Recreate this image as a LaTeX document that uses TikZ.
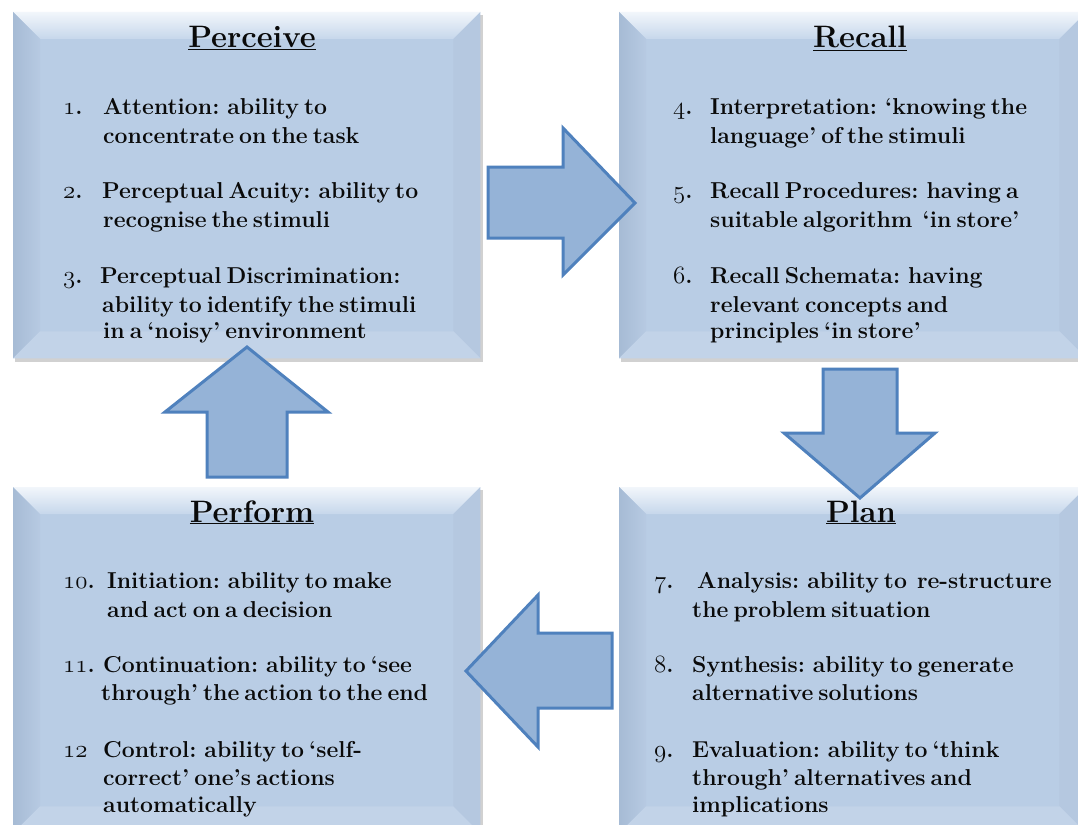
\documentclass[tikz,border=0pt]{standalone}
\usetikzlibrary{calc}
\definecolor{boxfill}{HTML}{B9CDE5}
\definecolor{bevtopA}{HTML}{F2F6FB}
\definecolor{bevtopB}{HTML}{C6D7EB}
\definecolor{bevleftA}{HTML}{A6BBD5}
\definecolor{bevleftB}{HTML}{B7CAE2}
\definecolor{bevright}{HTML}{B5C8E0}
\definecolor{bevbot}{HTML}{C2D3E8}
\definecolor{arrfill}{HTML}{95B3D7}
\definecolor{arrline}{HTML}{4F81BD}
\definecolor{txtc}{HTML}{0A0A0A}
\newcommand\osn[1]{{\fontencoding{OML}\fontfamily{lmm}\fontseries{b}\fontshape{it}\selectfont #1}}
\newcommand\bodyfnt{\fontsize{23}{26}\selectfont\bfseries\spaceskip=0.22em plus 0.05em minus 0.02em\relax}
\tikzset{
  boxbody/.style={rectangle, fill=boxfill, draw=none, inner sep=0pt, anchor=north west},
  blockarrow/.style={fill=arrfill, draw=arrline, line width=3pt, line join=miter},
  ttl/.style={anchor=base, inner sep=0pt, text=txtc, font=\fontsize{31}{34}\selectfont\bfseries},
  txt/.style={anchor=base west, inner sep=0pt, text=txtc, font=\bodyfnt},
}
\newcommand\bevbox[5]{%
  \fill[black, opacity=0.18] (#2+2,#3+3) rectangle (#4+3,#5+4);
  \node[boxbody, minimum width=#4-#2, minimum height=#5-#3] (#1) at (#2,#3) {};
  \shade[top color=bevtopA, bottom color=bevtopB] (#1.north west) -- (#1.north east) -- ([xshift=-27pt,yshift=-27pt]#1.north east) -- ([xshift=27pt,yshift=-27pt]#1.north west) -- cycle;
  \shade[left color=bevleftA, right color=bevleftB] (#1.north west) -- ([xshift=27pt,yshift=-27pt]#1.north west) -- ([xshift=27pt,yshift=27pt]#1.south west) -- (#1.south west) -- cycle;
  \fill[bevright] (#1.north east) -- ([xshift=-27pt,yshift=-27pt]#1.north east) -- ([xshift=-27pt,yshift=27pt]#1.south east) -- (#1.south east) -- cycle;
  \fill[bevbot] (#1.south west) -- ([xshift=27pt,yshift=27pt]#1.south west) -- ([xshift=-27pt,yshift=27pt]#1.south east) -- (#1.south east) -- cycle;
}
\begin{document}
\begin{tikzpicture}[x=1pt,y=-1pt]
\useasboundingbox (0,0) rectangle (1078,824);
\fill[white] (0,0) rectangle (1078,824);

% boxes
\bevbox{perceive}{13}{12}{480}{358}
\bevbox{recall}{619}{12}{1086}{358}
\bevbox{perform}{13}{487}{480}{833}
\bevbox{plan}{619}{487}{1086}{833}

% titles
\node[ttl] (tperceive) at (252,48) {\underline{Perceive}};
\node[ttl] (trecall) at (860,48) {\underline{Recall}};
\node[ttl] (tperform) at (252,522) {\underline{Perform}};
\node[ttl] (tplan) at (861,522) {\underline{Plan}};

% Perceive items
\node[txt] (n1) at (63,115) {\osn{1}.};
\node[txt] (a1) at (103,115) {Attention: ability to};
\node[txt] (b1) at (103,143) {concentrate on the task};
\node[txt] (n2) at (63,198) {\osn{2}.};
\node[txt] (a2) at (102,198) {Perceptual Acuity: ability to};
\node[txt] (b2) at (103,227) {recognise the stimuli};
\node[txt] (n3) at (63,283) {\osn{3}.};
\node[txt] (a3) at (100,283) {Perceptual Discrimination:};
\node[txt] (b3) at (102,312) {ability to identify the stimuli};
\node[txt] (c3) at (103,338) {in a ‘noisy’ environment};

% Recall items
\node[txt] (n4) at (673,115) {\osn{4}.};
\node[txt] (a4) at (710,115) {Interpretation: ‘knowing the};
\node[txt] (b4) at (710,143) {language’ of the stimuli};
\node[txt] (n5) at (673,198) {\osn{5}.};
\node[txt] (a5) at (710,198) {Recall Procedures: having a};
\node[txt] (b5) at (710,227) {suitable algorithm \ ‘in store’};
\node[txt] (n6) at (673,283) {\osn{6}.};
\node[txt] (a6) at (710,283) {Recall Schemata: having};
\node[txt] (b6) at (710,312) {relevant concepts and};
\node[txt] (c6) at (710,338) {principles ‘in store’};

% Plan items
\node[txt] (n7) at (654,588) {\osn{7}.};
\node[txt] (a7) at (697,588) {Analysis: ability to \ re-structure};
\node[txt] (b7) at (692,617) {the problem situation};
\node[txt] (n8) at (654,672) {\osn{8}.};
\node[txt] (a8) at (692,672) {Synthesis: ability to generate};
\node[txt] (b8) at (692,700) {alternative solutions};
\node[txt] (n9) at (654,757) {\osn{9}.};
\node[txt] (a9) at (692,757) {Evaluation: ability to ‘think};
\node[txt] (b9) at (692,785) {through’ alternatives and};
\node[txt] (c9) at (692,812) {implications};

% Perform items
\node[txt] (n10) at (63,588) {\osn{10}.};
\node[txt] (a10) at (107,588) {Initiation: ability to make};
\node[txt] (b10) at (107,617) {and act on a decision};
\node[txt] (n11) at (63,672) {\osn{11}.};
\node[txt] (a11) at (103,672) {Continuation: ability to ‘see};
\node[txt] (b11) at (101,700) {through’ the action to the end};
\node[txt] (n12) at (63,757) {\osn{12}};
\node[txt] (a12) at (103,757) {Control: ability to ‘self-};
\node[txt] (b12) at (103,785) {correct’ one’s actions};
\node[txt] (c12) at (103,812) {automatically};

% block arrows
% Perceive -> Recall (right)
\draw[blockarrow] (488,167) -- (563,167) -- (563,128) -- (635,203) -- (563,275) -- (563,238) -- (488,238) -- cycle;
% Recall -> Plan (down)
\draw[blockarrow] (823,369) -- (897,369) -- (897,433) -- (935,433) -- (860,498) -- (784,433) -- (823,433) -- cycle;
% Plan -> Perform (left)
\draw[blockarrow] (612,633) -- (538,633) -- (538,595) -- (466,671) -- (538,747) -- (538,708) -- (612,708) -- cycle;
% Perform -> Perceive (up)
\draw[blockarrow] (207,477) -- (207,412) -- (165,412) -- (247,347) -- (328,412) -- (287,412) -- (287,477) -- cycle;
\end{tikzpicture}
\end{document}
